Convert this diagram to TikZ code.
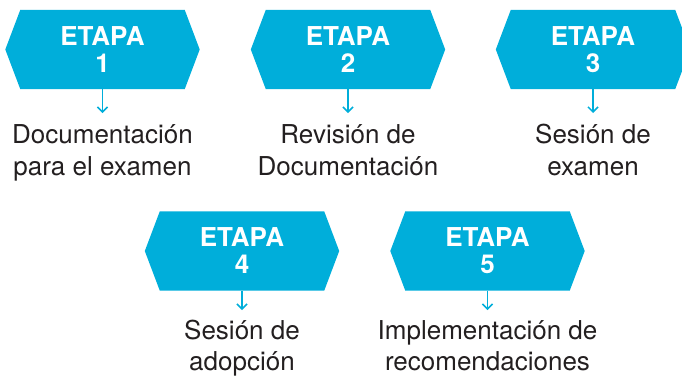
\documentclass[tikz,border=0pt]{standalone}
\usepackage{fontspec}
\setmainfont{TeX Gyre Heros}
\usetikzlibrary{arrows.meta,backgrounds}
\definecolor{etapa}{RGB}{0,174,218}
\definecolor{txt}{RGB}{35,31,32}
\tikzset{
  hexbox/.style={minimum width=164pt, minimum height=79pt, inner sep=0pt, text=white,
    font=\fontsize{26}{27}\selectfont\bfseries, align=center},
  desc/.style={text=txt, font=\fontsize{26}{31.5}\selectfont, align=center, anchor=base, inner sep=0pt},
  link/.style={draw=etapa, line width=1.5pt, -{Straight Barb[length=5pt,width=10pt]}},
}
\begin{document}
\begin{tikzpicture}[x=1pt,y=1pt]
\useasboundingbox (0,0) rectangle (682,-376);
\clip (0,0) rectangle (682,-376);
\node[hexbox] (e1) at (102.5,-49.5) {ETAPA\\1};
\node[hexbox] (e2) at (348,-49.5) {ETAPA\\2};
\node[hexbox] (e3) at (593,-49.5) {ETAPA\\3};
\node[hexbox] (e4) at (242,-251) {ETAPA\\4};
\node[hexbox] (e5) at (487.5,-251) {ETAPA\\5};
\begin{scope}[on background layer]
\foreach \n in {e1,e2,e3,e4,e5}
  \fill[etapa] (\n.north west) -- (\n.north east) -- ([xshift=15pt]\n.east)
    -- (\n.south east) -- (\n.south west) -- ([xshift=-15pt]\n.west) -- cycle;
\end{scope}
\node[desc] (d1) at (102.5,-175) {Documentación\\para el examen};
\node[desc] (d2) at (348,-175) {Revisión de\\Documentación};
\node[desc] (d3) at (593,-175) {Sesión de\\examen};
\node[desc] (d4) at (242,-370.5) {Sesión de\\adopción};
\node[desc] (d5) at (487.5,-370.5) {Implementación de\\recomendaciones};
\coordinate (a1) at (102.5,-113);
\coordinate (a2) at (348,-113);
\coordinate (a3) at (593,-113);
\coordinate (a4) at (242,-310);
\coordinate (a5) at (487.5,-310);
\foreach \i in {1,...,5}
  \draw[link] (e\i.south) -- (a\i);
\end{tikzpicture}
\end{document}
